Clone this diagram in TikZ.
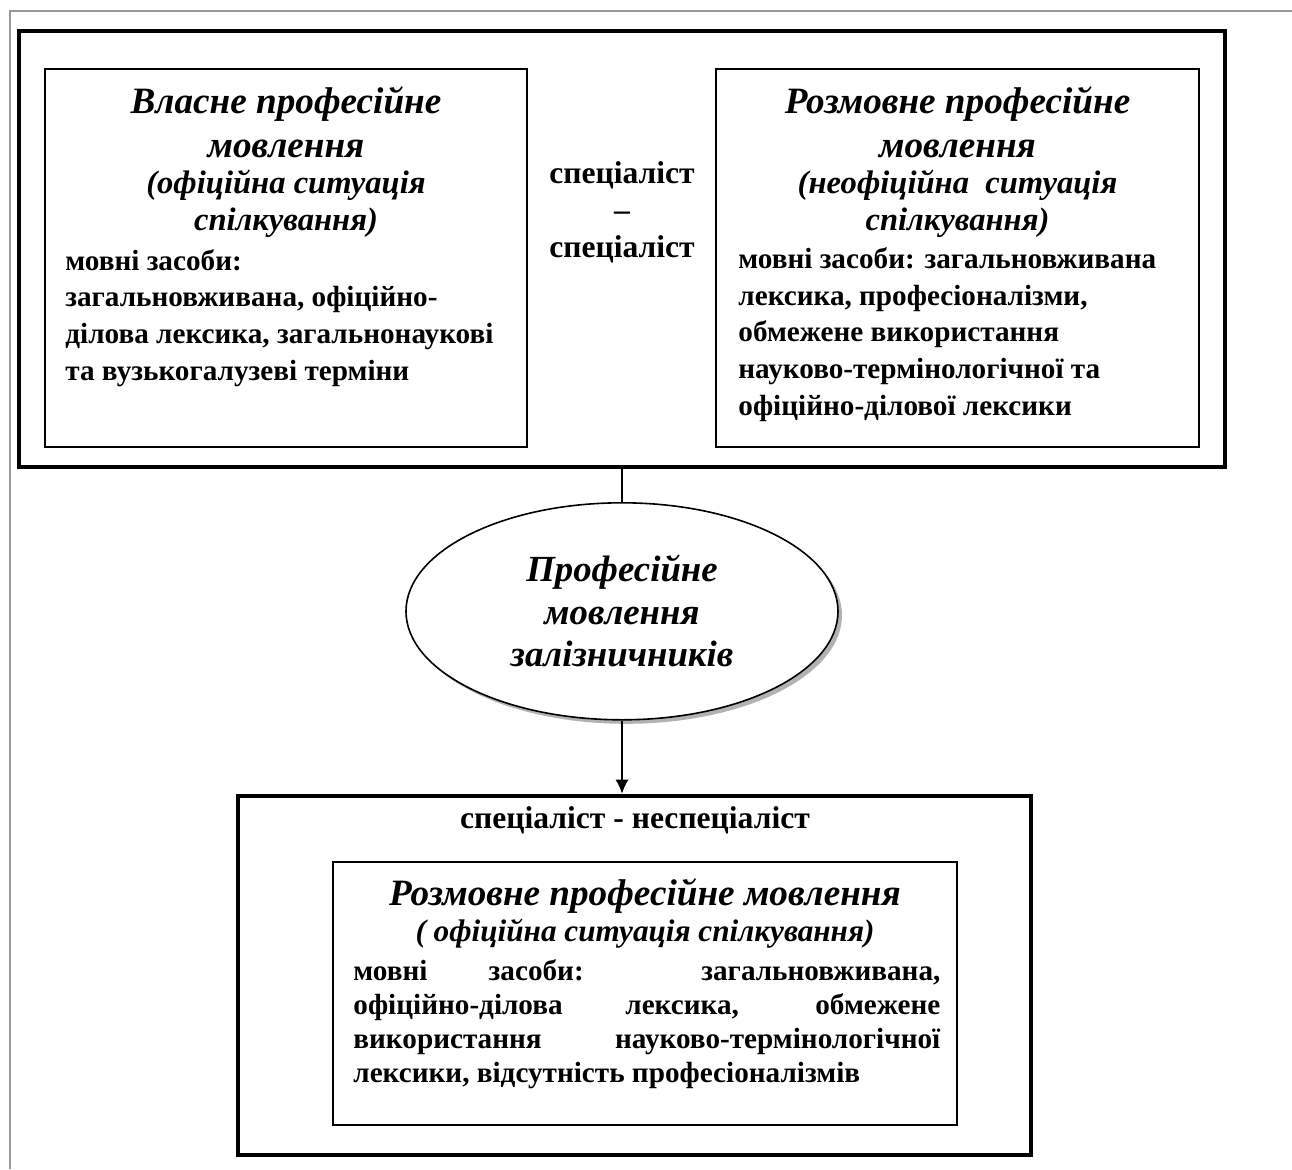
\documentclass[tikz,border=0pt]{standalone}
\usepackage{fontspec}
\setmainfont{Liberation Serif}
\usetikzlibrary{positioning,shapes.geometric,shadows,arrows.meta}

\begin{document}
\begin{tikzpicture}[x=0.5pt, y=-0.5pt, >={Latex[length=7pt,width=6.5pt]}, inner sep=0pt,
    font=\bfseries\fontsize{14.6}{18.3}\selectfont]
        \tikzstyle{frame} = [rectangle, draw, line width=2pt]
        \tikzstyle{block} = [rectangle, draw, line width=1pt]
        \tikzstyle{head} = [align=center, anchor=base, font=\bfseries\itshape\fontsize{18.6}{22}\selectfont]
        \tikzstyle{sub} = [align=center, anchor=base, font=\bfseries\itshape\fontsize{16.3}{18.5}\selectfont]
        \tikzstyle{body} = [align=left, anchor=base west]
        \useasboundingbox (0,0) rectangle (1292,1169);
        \draw[gray!80, line width=0.7pt] (10,1169) -- (10,11) -- (1292,11);
        % specialist - specialist
        \node[frame, minimum width=603pt, minimum height=218pt] (spec) at (622,249) {};
        \node[block, minimum width=241pt, minimum height=189pt] (vlasne) at (286,258) {};
        \node[block, minimum width=241.5pt, minimum height=189pt] (rozm) at (957.5,258) {};
        \node[head] (vlasnehead) at (286,157) {Власне професійне\\мовлення};
        \node[sub] (vlasnesub) at (286,230) {(офіційна ситуація\\спілкування)};
        \node[body] (vlasnebody) at (65,380) {мовні засоби:\\загальновживана, офіційно-\\ділова лексика, загальнонаукові\\та вузькогалузеві терміни};
        \node[align=center, anchor=base, font=\bfseries\fontsize{15.8}{18.5}\selectfont] (specspec) at (622,257) {спеціаліст\\–\\спеціаліст};
        \node[head] (rozmhead) at (957.5,157) {Розмовне професійне\\мовлення};
        \node[sub] (rozmsub) at (957.5,230) {(неофіційна\ \ ситуація\\спілкування)};
        \node[body] (rozmbody) at (738,415) {мовні засоби: загальновживана\\лексика, професіоналізми,\\обмежене використання\\науково-термінологічної та\\офіційно-ділової лексики};
        % ellipse
        \node[ellipse, draw, line width=0.8pt, fill=white, minimum width=216pt, minimum height=108.5pt,
              drop shadow={shadow xshift=2pt, shadow yshift=-2pt, fill=gray!60, opacity=1},
              below=16.5pt of spec, align=center, font=\bfseries\itshape\fontsize{18.4}{21.25}\selectfont] (zal) {Професійне\\мовлення\\залізничників};
        % specialist - non-specialist
        \node[frame, minimum width=396.5pt, minimum height=179.5pt, below=36.5pt of zal, xshift=6.25pt] (nespec) {};
        \node[anchor=base, font=\bfseries\fontsize{15.8}{18}\selectfont] (nespectitle) at (635,828) {спеціаліст - неспеціаліст};
        \node[block, minimum width=312pt, minimum height=131.5pt] (rozm2) at (645,993.5) {};
        \node[head] (rozm2head) at (645,905) {Розмовне професійне мовлення};
        \node[sub, font=\bfseries\itshape\fontsize{15.6}{18}\selectfont] (rozm2sub) at (645,941) {( офіційна ситуація спілкування)};
        \node[anchor=base west, align=justify, text width=293.5pt, font=\bfseries\fontsize{14.6}{17}\selectfont] (rozm2body) at (353,980)
            {мовні засоби: загальновживана,\linebreak офіційно-ділова лексика, обмежене\linebreak використання науково-термінологічної\linebreak лексики, відсутність професіоналізмів};
        \draw[line width=0.6pt] (spec) -- (zal);
        \draw[->, line width=0.6pt] (zal) -- (zal.south |- nespec.north);
    \end{tikzpicture}
\end{document}
